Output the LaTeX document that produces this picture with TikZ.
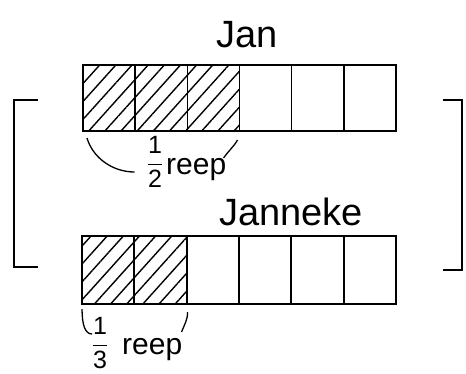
\documentclass[tikz,border=0pt]{standalone}
\usepackage{amsmath}
\usepackage{fontspec}
\setmainfont{Liberation Sans}
\usetikzlibrary{positioning, patterns.meta, calc}

\begin{document}
\begin{tikzpicture}[
    x=1pt, y=-1pt,
    cell/.style={rectangle, draw, line width=1.6pt, minimum width=52.2pt, minimum height=66pt, inner sep=0pt, outer sep=0pt},
    shaded/.style={pattern={Lines[angle=48, distance=12pt, line width=1.4pt]}},
    title/.style={font=\fontsize{38}{42}\selectfont, inner sep=0pt},
    part/.style={font=\fontsize{30}{33}\selectfont, inner sep=0pt},
    frac/.style={font=\fontsize{25}{28}\selectfont, inner sep=0pt},
    brace/.style={line width=1.3pt}
]
\useasboundingbox (0,0) rectangle (466,373);

% strook van Jan
\foreach \i in {1,2,3} {
  \node[cell, shaded] (jan\i) at ({83+52.17*(\i-0.5)}, 98) {};
}
\foreach \i in {4,5,6} {
  \node[cell] (jan\i) at ({83+52.17*(\i-0.5)}, 98) {};
}

% strook van Janneke
\foreach \i in {1,2} {
  \node[cell, shaded, minimum height=68pt] (janneke\i) at ({82+52.33*(\i-0.5)}, 270) {};
}
\foreach \i in {3,...,6} {
  \node[cell, minimum height=68pt] (janneke\i) at ({82+52.33*(\i-0.5)}, 270) {};
}

\node[title, anchor=base] (janlabel) at (247,47) {Jan};
\node[title, anchor=base] (jannekelabel) at (291,225) {Janneke};

\node[frac] (halffrac) at (155,162) {$\dfrac{\text{1}}{\text{2}}$};
\node[part, anchor=base west] (halfreep) at (166,174) {reep};
\node[frac] (thirdfrac) at (100,343) {$\dfrac{\text{1}}{\text{3}}$};
\node[part, anchor=base west] (thirdreep) at (122,354) {reep};

% boogjes
\draw[brace] ($(jan1.south west)+(4,7)$) .. controls +(6,20) and +(-22,0) .. ($(halffrac.west)+(-12,10)$);
\draw[brace] ($(jan3.south east)+(-2,9)$) .. controls +(-4,7) and +(4,-6) .. ($(jan3.south east)+(-16,27)$);
\draw[brace] ($(janneke1.south west)+(0,5)$) .. controls +(0,16) and +(-7,0) .. ($(janneke1.south west)+(10,30)$);
\draw[brace] ($(janneke2.south east)+(1,8)$) .. controls +(0,8) and +(3,-8) .. ($(janneke2.south east)+(-5,28)$);

% haken
\draw[brace] (38,100) -- (14,100) -- (14,267) -- (38,267);
\draw[brace] (443,100) -- (462,100) -- (462,270) -- (443,270);

\end{tikzpicture}
\end{document}
